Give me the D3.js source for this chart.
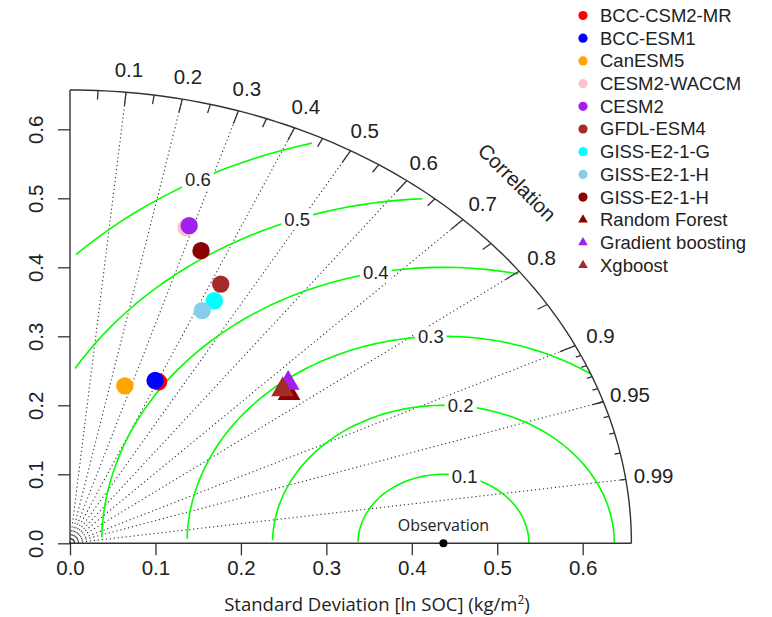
<!DOCTYPE html>
<head>
<meta charset="utf-8">
<script src="https://d3js.org/d3.v7.min.js"></script>
<style>
  body { margin: 0; background: #fff; }
  text { font-family: "Liberation Sans", Arial, sans-serif; fill: #222; }
  .note { font-family: "Open Sans", "Noto Sans", sans-serif; }
</style>
<title>Taylor diagram</title>
</head>
<body>
<div id="vis"></div>
<script>
// model names, colours and marker shapes (legend order = drawing order)
const models = ['BCC-CSM2-MR', 'BCC-ESM1', 'CanESM5', 'CESM2-WACCM', 'CESM2', 'GFDL-ESM4',
  'GISS-E2-1-G', 'GISS-E2-1-H', 'GISS-E2-1-H', 'Random Forest', 'Gradient boosting', 'Xgboost']
const modelColors = ['#ff0000', '#0000ff', '#ffa500', '#ffc0cb', '#a020f0', '#a52a2a',
  '#00ffff', '#87ceeb', '#8b0000', '#8b0000', '#a020f0', '#a52a2a']
const modelShapes = ['circle', 'circle', 'circle', 'circle', 'circle', 'circle',
  'circle', 'circle', 'circle', 'triangle', 'triangle', 'triangle']
// standard deviation and correlation of each model
const sdValues = [0.256, 0.256, 0.237, 0.477, 0.481, 0.415, 0.390, 0.371, 0.451, 0.336, 0.345, 0.334]
const corValues = [0.405, 0.389, 0.271, 0.285, 0.290, 0.425, 0.433, 0.417, 0.340, 0.763, 0.740, 0.745]

const obsSd = 0.437
const maxSd = 0.657
const sdTicks = [0, 0.1, 0.2, 0.3, 0.4, 0.5, 0.6]
const corrLabels = [0.1, 0.2, 0.3, 0.4, 0.5, 0.6, 0.7, 0.8, 0.9, 0.95, 0.99]
const medTicks = [0.05, 0.15, 0.25, 0.35, 0.45, 0.55, 0.65, 0.75, 0.85, 0.95]
const smallTicks = [0.91, 0.92, 0.93, 0.94, 0.95, 0.96, 0.97, 0.98, 0.99]
const gammaLevels = [0.1, 0.2, 0.3, 0.4, 0.5, 0.6]

const width = 772
const height = 617

const svg = d3.select('#vis').append('svg')
  .attr('width', width)
  .attr('height', height)

// x and y are not drawn at the same scale in the original
const x = d3.scaleLinear().domain([0, 0.6]).range([70, 582.7])
const y = d3.scaleLinear().domain([0, 0.6]).range([543.3, 129.3])

function polar (r, c) {
  return [x(r * c), y(r * Math.sqrt(1 - c * c))]
}

const line = d3.line()

// correlation rays (dotted)
svg.append('g')
  .selectAll('path')
  .data(corrLabels)
  .join('path')
  .attr('d', c => line([[x(0), y(0)], polar(maxSd, c)]))
  .attr('fill', 'none')
  .attr('stroke', '#333')
  .attr('stroke-width', 1.1)
  .attr('stroke-dasharray', '1.2,2.8')

// centred RMS contours, sampled like plotrix does
const steps = d3.range(0, Math.PI, 0.03)
const gammaG = svg.append('g')
gammaLevels.forEach((g, gi) => {
  const xs = steps.map(t => Math.cos(t) * g + obsSd)
  const ys = steps.map(t => Math.sin(t) * g)
  let end = xs.findIndex(v => v < 0)
  end = end === -1 ? steps.length - 1 : end - 1
  let start = 0
  xs.forEach((v, i) => { if (v * v + ys[i] * ys[i] > maxSd * maxSd) start = i + 1 })
  const pts = []
  for (let i = start; i <= end; i++) pts.push([x(xs[i]), y(ys[i])])
  gammaG.append('path')
    .attr('d', line(pts))
    .attr('fill', 'none')
    .attr('stroke', '#00ff00')
    .attr('stroke-width', 1.6)

  const li = 44 + gi * 5
  if (xs[li] > 0) {
    const lab = gammaG.append('g')
      .attr('transform', `translate(${x(xs[li])},${y(ys[li])})`)
    const t = lab.append('text')
      .attr('text-anchor', 'middle')
      .attr('dy', '0.35em')
      .style('font-size', '18.5px')
      .text(g)
    const bb = t.node().getBBox()
    lab.insert('rect', 'text')
      .attr('x', bb.x - 3)
      .attr('y', bb.y + 1)
      .attr('width', bb.width + 6)
      .attr('height', bb.height - 2)
      .attr('fill', '#fff')
  }
})

// outer arc
const arcPts = d3.range(0, 101).map(i => {
  const a = i / 100 * Math.PI / 2
  return [x(maxSd * Math.cos(a)), y(maxSd * Math.sin(a))]
})
svg.append('path')
  .attr('d', line(arcPts))
  .attr('fill', 'none')
  .attr('stroke', '#333')
  .attr('stroke-width', 1.4)

// ticks on the arc
function arcTicks (vals, frac) {
  svg.append('g')
    .selectAll('path')
    .data(vals)
    .join('path')
    .attr('d', c => line([polar(maxSd, c), polar(maxSd * frac, c)]))
    .attr('stroke', '#333')
    .attr('stroke-width', 1.3)
}
arcTicks(d3.range(0.1, 0.95, 0.1), 0.97)
arcTicks(medTicks, 0.98)
arcTicks(smallTicks, 0.99)

// correlation labels
svg.append('g')
  .selectAll('text')
  .data(corrLabels)
  .join('text')
  .attr('x', c => polar(maxSd * 1.05, c)[0])
  .attr('y', c => polar(maxSd * 1.05, c)[1])
  .attr('text-anchor', 'middle')
  .attr('dy', '0.35em')
  .style('font-size', '20.5px')
  .text(c => c)

const corrPos = polar(0.74, Math.SQRT1_2)
svg.append('text')
  .attr('transform', `translate(${corrPos[0]},${corrPos[1]}) rotate(45)`)
  .attr('text-anchor', 'middle')
  .attr('dy', '0.35em')
  .style('font-size', '20.5px')
  .text('Correlation')

// axes
svg.append('line')
  .attr('x1', x(0)).attr('x2', x(maxSd))
  .attr('y1', y(0)).attr('y2', y(0))
  .attr('stroke', '#333').attr('stroke-width', 1.4)
svg.append('line')
  .attr('x1', x(0)).attr('x2', x(0))
  .attr('y1', y(0)).attr('y2', y(maxSd))
  .attr('stroke', '#333').attr('stroke-width', 1.4)

const xAxis = svg.append('g')
  .attr('transform', `translate(0,${y(0)})`)
  .call(d3.axisBottom(x).tickValues(sdTicks).tickFormat(d3.format('.1f')).tickSize(12).tickPadding(5))
const yAxis = svg.append('g')
  .attr('transform', `translate(${x(0)},0)`)
  .call(d3.axisLeft(y).tickValues(sdTicks).tickFormat(d3.format('.1f')).tickSize(12).tickPadding(4))
;[xAxis, yAxis].forEach(a => {
  a.select('.domain').remove()
  a.selectAll('line').attr('stroke', '#333').attr('stroke-width', 1.3)
  a.selectAll('text').style('font-size', '20.5px').attr('fill', '#222')
    .style('font-family', '"Liberation Sans", Arial, sans-serif')
})
yAxis.selectAll('text')
  .attr('text-anchor', 'middle')
  .attr('dy', null)
  .attr('x', null)
  .attr('transform', 'translate(-35,0) rotate(-90)')
  .attr('dominant-baseline', 'central')

// observation point
svg.append('circle')
  .attr('cx', x(obsSd))
  .attr('cy', y(0))
  .attr('r', 4)
  .attr('fill', '#000')
svg.append('text')
  .attr('class', 'note')
  .attr('x', x(obsSd))
  .attr('y', y(0) - 12)
  .attr('text-anchor', 'middle')
  .style('font-size', '16px')
  .text('Observation')

// axis title
const title = svg.append('text')
  .attr('class', 'note')
  .attr('x', 377)
  .attr('y', 611)
  .attr('text-anchor', 'middle')
  .style('font-size', '18.5px')
title.append('tspan').text('Standard Deviation [ln SOC] (kg/m')
title.append('tspan').attr('dy', -7).style('font-size', '12px').text('2')
title.append('tspan').attr('dy', 7).text(')')

// model points
const symbolFor = (shape, big) => d3.symbol()
  .type(shape === 'circle' ? d3.symbolCircle : d3.symbolTriangle)
  .size(shape === 'circle' ? (big ? Math.PI * 8.7 * 8.7 : Math.PI * 4.6 * 4.6) : (big ? 225 : 40))()

svg.append('g')
  .selectAll('path')
  .data(models.map((m, i) => i))
  .join('path')
  .attr('transform', i => `translate(${polar(sdValues[i], corValues[i])})`)
  .attr('d', i => symbolFor(modelShapes[i], true))
  .attr('fill', i => modelColors[i])

// legend
const legend = svg.append('g')
  .selectAll('g')
  .data(models.map((m, i) => i))
  .join('g')
  .attr('transform', i => `translate(583,${15.5 + i * 22.7})`)
legend.append('path')
  .attr('d', i => symbolFor(modelShapes[i], false))
  .attr('fill', i => modelColors[i])
legend.append('text')
  .attr('x', 17)
  .attr('dy', '0.35em')
  .style('font-size', '18.5px')
  .text(i => models[i])
</script>
</body>
